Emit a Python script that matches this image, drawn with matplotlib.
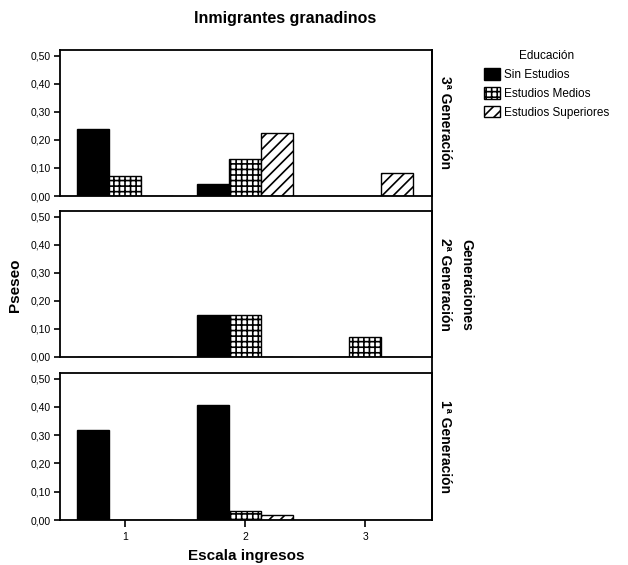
import numpy as np
import matplotlib
matplotlib.use('Agg')
import matplotlib.pyplot as plt
from matplotlib.lines import Line2D

plt.rcParams['font.family'] = ['Liberation Sans', 'DejaVu Sans']
plt.rcParams['hatch.linewidth'] = 1.2
plt.rcParams['hatch.color'] = 'black'

# data
ingresos = [1, 2, 3]
educacion = ['Sin Estudios', 'Estudios Medios', 'Estudios Superiores']
generaciones = ['3ª Generación', '2ª Generación', '1ª Generación']
gen3 = {'Sin Estudios': [0.238, 0.042, 0.0],
        'Estudios Medios': [0.072, 0.132, 0.0],
        'Estudios Superiores': [0.0, 0.226, 0.083]}
gen2 = {'Sin Estudios': [0.0, 0.150, 0.0],
        'Estudios Medios': [0.0, 0.150, 0.070],
        'Estudios Superiores': [0.0, 0.0, 0.0]}
gen1 = {'Sin Estudios': [0.318, 0.407, 0.0],
        'Estudios Medios': [0.0, 0.033, 0.0],
        'Estudios Superiores': [0.0, 0.018, 0.0]}
yticks = [0.0, 0.1, 0.2, 0.3, 0.4, 0.5]
yticklabels = ['0,00', '0,10', '0,20', '0,30', '0,40', '0,50']

fills = {'Sin Estudios': ('black', None),
         'Estudios Medios': ('white', '+++'),
         'Estudios Superiores': ('white', '///')}

fig = plt.figure(figsize=(6.28, 5.65), dpi=100)
W, H = 628., 565.
left, right = 59.5, 432.
panels = [(50, 196), (211, 357), (373, 520)]

x = np.array(ingresos, dtype=float)
w = 0.265
handles = []
for k, (data, name, (top, bot)) in enumerate(zip([gen3, gen2, gen1], generaciones, panels)):
    ax = fig.add_axes([left / W, 1 - bot / H, (right - left) / W, (bot - top) / H])
    for i, ed in enumerate(educacion):
        fc, hatch = fills[ed]
        b = ax.bar(x + (i - 1) * w, data[ed], width=w, color=fc, edgecolor='black',
                   hatch=hatch, linewidth=1.0, label=ed)
        if k == 0:
            handles.append(b)
    ax.set_xlim(0.455, 3.555)
    ax.set_ylim(0, 0.52)
    ax.set_yticks(yticks)
    ax.set_yticklabels(yticklabels, fontsize=7.5)
    ax.tick_params(axis='y', direction='out', length=4, width=1.2, pad=2)
    for s in ax.spines.values():
        s.set_linewidth(1.3)
    if k < 2:
        ax.set_xticks([])
    else:
        ax.set_xticks(ingresos)
        ax.set_xticklabels([str(v) for v in ingresos], fontsize=7.5)
        ax.tick_params(axis='x', direction='out', length=5, width=1.2, pad=4)
        ax.set_xlabel('Escala ingresos', fontsize=11, fontweight='bold', labelpad=5)
    ax.text(1.015, 0.5, name, transform=ax.transAxes, rotation=-90, ha='left', va='center',
            fontsize=10, fontweight='bold')

# right frame line running across the panels
fig.add_artist(Line2D([right / W, right / W], [1 - 520 / H, 1 - 50 / H], color='black', lw=1.3))

fig.text(285 / W, 1 - 19 / H, 'Inmigrantes granadinos', ha='center', va='center',
         fontsize=11.5, fontweight='bold')
fig.text(15 / W, 1 - 285 / H, 'Pseseo', rotation=90, ha='center', va='center',
         fontsize=11, fontweight='bold')
fig.text(466 / W, 1 - 285 / H, 'Generaciones', rotation=-90, ha='center', va='center',
         fontsize=10, fontweight='bold')

leg = fig.legend(handles=handles, labels=educacion, title='Educación', loc='upper left',
                 bbox_to_anchor=(476 / W, 1 - 42 / H), frameon=False, fontsize=8.5,
                 title_fontsize=8.5, handlelength=1.35, handleheight=1.15,
                 handletextpad=0.3, labelspacing=0.5, borderpad=0.2)

fig.savefig('out.png', dpi=100)
